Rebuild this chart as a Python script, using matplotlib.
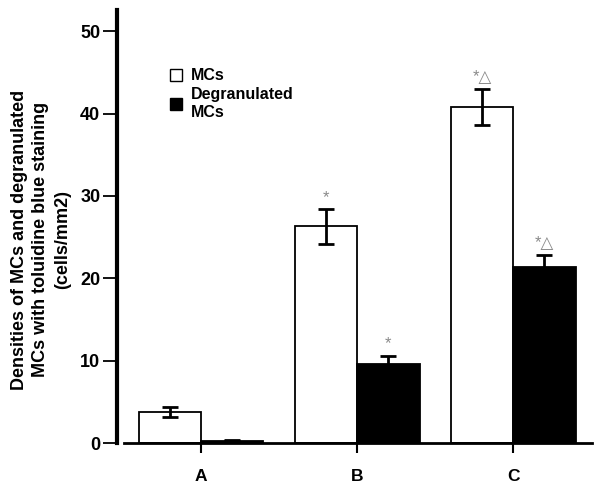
import matplotlib
matplotlib.use("Agg")
from matplotlib import pyplot as plt
from matplotlib.patches import Patch
import numpy as np

plt.rcParams['font.family'] = ['Liberation Sans', 'DejaVu Sans']
plt.rcParams['font.weight'] = 'bold'

groups = ['A', 'B', 'C']
mcs = [3.8, 26.3, 40.8]
mcs_err = [0.6, 2.1, 2.2]
degran = [0.3, 9.6, 21.4]
degran_err = [0.1, 1.0, 1.4]
mcs_marks = ['', '*', '*\u25b3']
degran_marks = ['', '*', '*\u25b3']

fig = plt.figure(figsize=(6, 4.93), dpi=100)
ax = fig.add_axes([0.195, 0.1014, 0.792, 0.8786])

x = np.arange(len(groups))
w = 0.4
ax.bar(x - w / 2, mcs, w, color='white', edgecolor='black', linewidth=1.3, zorder=2)
ax.bar(x + w / 2, degran, w, color='black', edgecolor='black', linewidth=1.3, zorder=2)
ax.errorbar(x - w / 2, mcs, yerr=mcs_err, fmt='none', ecolor='black',
            elinewidth=2, capsize=6, capthick=2, zorder=3)
ax.errorbar(x + w / 2, degran, yerr=degran_err, fmt='none', ecolor='black',
            elinewidth=2, capsize=6, capthick=2, zorder=1)

for i in range(len(groups)):
    if mcs_marks[i]:
        ax.text(x[i] - w / 2, mcs[i] + mcs_err[i] + 0.5, mcs_marks[i],
                ha='center', va='bottom', color='#8a8a8a', fontsize=12,
                fontweight='normal')
    if degran_marks[i]:
        ax.text(x[i] + w / 2, degran[i] + degran_err[i] + 0.5, degran_marks[i],
                ha='center', va='bottom', color='#8a8a8a', fontsize=12,
                fontweight='normal')

ax.set_xlim(-0.538, 2.506)
ax.set_ylim(0, 52.6)
ax.set_xticks(x)
ax.set_xticklabels(groups, fontsize=12.5, fontweight='bold')
ax.set_yticks([0, 10, 20, 30, 40, 50])
ax.tick_params(axis='y', labelsize=13, length=10, width=1.3, pad=2)
ax.tick_params(axis='x', length=7, width=1.5, pad=12)
for lab in ax.get_yticklabels():
    lab.set_fontweight('bold')

ax.spines['top'].set_visible(False)
ax.spines['right'].set_visible(False)
ax.spines['left'].set_linewidth(3)
ax.spines['bottom'].set_linewidth(2)
ax.spines['bottom'].set_bounds(-0.494, 2.506)

ax.text(-0.16, 0.469,
        'Densities of MCs and degranulated\nMCs with toluidine blue staining\n(cells/mm2)',
        transform=ax.transAxes, rotation=90, ha='center', va='center',
        multialignment='center', fontsize=13, fontweight='bold', linespacing=1.35)

handles = [Patch(facecolor='white', edgecolor='black', linewidth=1),
           Patch(facecolor='black', edgecolor='black', linewidth=1)]
ax.legend(handles, ['MCs', 'Degranulated\nMCs'], loc='upper left',
          bbox_to_anchor=(0.112, 0.865), frameon=False,
          handlelength=0.75, handleheight=0.75, handletextpad=0.55,
          borderaxespad=0, borderpad=0, labelspacing=0.25,
          prop={'weight': 'bold', 'size': 11.5})

fig.savefig('out.png', dpi=100)
